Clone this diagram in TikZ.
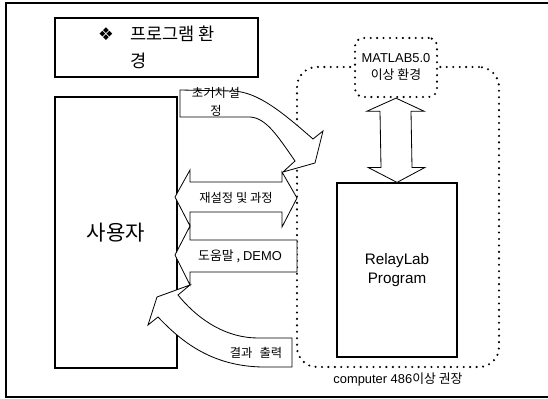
\documentclass[tikz,border=0pt]{standalone}
\usepackage{fontspec}
\setmainfont{Liberation Sans}
\newfontfamily\kr{Noto Sans CJK KR}
\newfontfamily\sym{DejaVu Sans}
\usetikzlibrary{positioning,calc}

\begin{document}
\begin{tikzpicture}[
  x=0.3mm, y=-0.3mm,
  box/.style={rectangle, draw, line width=1pt, inner sep=0pt, align=center, fill=white},
  dotbox/.style={rectangle, draw, line width=2pt, dash pattern=on 0pt off 5.5pt, line cap=round, rounded corners=#1, inner sep=0pt, align=center},
  blockarrow/.style={draw, line width=0.7pt, fill=white, line join=miter},
  lbl/.style={inner sep=0pt, align=center, font=\kr\fontsize{10.5}{16}\selectfont}
]
  \useasboundingbox (0,0) rectangle (548,399);
  % outer frame
  \draw[line width=0.9pt] (548,3) -- (6,3) -- (6,397) -- (548,397);

  \node[dotbox=6mm, minimum width=60.6mm, minimum height=90mm] (pc) at (398,217) {};
  \node[lbl, below=1.2mm of pc, font=\kr\fontsize{11}{13}\selectfont] (pclbl) {{\rmfamily computer 486}이상 권장};
  \node[dotbox=2.5mm, fill=white, minimum width=24.6mm, minimum height=17.7mm, font=\fontsize{11}{14.5}\selectfont] (matlab) at (396,67.5) {MATLAB5.0\\{\kr 이상 환경}};

  \node[box, minimum width=60.9mm, minimum height=17.7mm, align=left, font=\fontsize{15}{23}\selectfont] (title) at (156.5,47.5)
    {{\sym ❖}\hspace{14pt}{\kr 프로그램 환}\\\hphantom{{\sym ❖}\hspace{14pt}}{\kr 경}};
  \node[box, minimum width=36.6mm, minimum height=81.3mm, font=\kr\fontsize{18}{20}\selectfont] (user) at (116,232.5) {사용자};
  \node[box, minimum width=36mm, minimum height=52.2mm, font=\fontsize{13}{16}\selectfont] (relay) at (397,270) {RelayLab\\Program};

  % MATLAB <-> RelayLab
  \draw[blockarrow] (matlab.south) -- ++(28,13) -- ++(-13,0) -- ($(relay.north)+(15,-15)$) -- ++(13,0)
    -- (relay.north) -- ++(-29,-15) -- ++(13,0) -- ($(matlab.south)+(-16,13)$) -- ++(-13,0) -- cycle;

  % user <-> program
  \draw[blockarrow] (180,90) -- (233,91) .. controls (258,92) and (282,112) .. (313,139) -- (323,131) -- (315,163)
    -- (283,172) -- (295,161) .. controls (277,135) and (266,118) .. (250,117) -- (180,117) -- cycle;
  \draw[blockarrow] (175,197) -- (190,170) -- (190,182) -- (282,182) -- (282,172) -- (297,198) -- (282,227)
    -- (282,212) -- (190,212) -- (190,226) -- cycle;
  \draw[blockarrow] (175,255) -- (190,226) -- (190,240) -- (297,240) -- (297,272) -- (190,272) -- (190,285) -- cycle;
  \draw[blockarrow] (292,338) -- (258,338) .. controls (228,338) and (200,322) .. (178,295) -- (190,285) -- (157,297)
    -- (148,325) -- (158,317) .. controls (180,340) and (210,366) .. (262,367) -- (292,367) -- cycle;

  \node[lbl] (initlbl) at (216,102) {초기치 설\\정};
  \node[lbl] (resetlbl) at (236,198) {재설정 및 과정};
  \node[lbl, font=\kr\fontsize{11}{13}\selectfont] (helplbl) at (240,256) {도움말 , {\rmfamily DEMO}};
  \node[lbl] (outlbl) at (256,353) {결과\hspace{6pt}출력};
\end{tikzpicture}
\end{document}
